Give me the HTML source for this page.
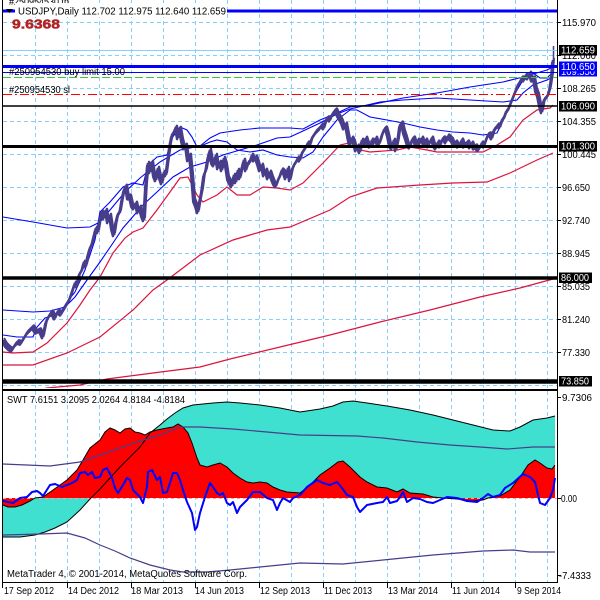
<!DOCTYPE html>
<html><head><meta charset="utf-8">
<style>
html,body{margin:0;padding:0;background:#fff;}
svg{display:block;}
text{font-family:"Liberation Sans",sans-serif;font-size:10px;fill:#000;}
</style></head>
<body>
<svg width="600" height="600" viewBox="0 0 600 600" xmlns="http://www.w3.org/2000/svg" xmlns:xlink="http://www.w3.org/1999/xlink">
<rect width="600" height="600" fill="#fff"/>
<defs>
<clipPath id="cm"><rect x="3" y="0" width="554" height="388"/></clipPath>
<clipPath id="ci"><rect x="3" y="391" width="554" height="191"/></clipPath>
<polyline id="px" fill="none" stroke-linejoin="bevel" points="3,340 6,345 9,348 12,350 15,345 18,342 21,343 24,338 27,333 30,330 33,327 36,332 40,330 43,337 46,322 49,316 52,312 55,318 58,311 61,314 64,309 67,304 70,298 72,292 75,283 77,286 79,275 82,270 84,262 86,266 88,255 90,248 92,244 94,236 96,228 98,232 100,220 102,212 104,218 106,210 108,222 110,215 112,228 114,235 116,222 118,214 120,212 122,200 124,190 126,186 128,198 130,196 132,205 134,208 136,203 138,212 140,207 142,215 144,220 146,185 148,163 150,172 152,162 154,175 156,180 158,168 160,177 162,183 164,172 166,175 168,160 170,145 172,135 174,132 176,127 178,138 180,128 182,140 184,148 186,145 188,160 190,155 192,175 194,200 196,205 198,212 200,200 202,190 204,175 206,170 208,158 210,150 212,162 214,165 216,155 218,168 220,162 222,170 224,158 226,165 228,178 230,182 232,186 234,175 236,182 238,170 240,178 242,168 244,160 246,170 248,163 250,162 252,155 254,160 256,157 258,163 260,170 262,165 264,175 266,170 268,178 270,172 272,178 274,183 276,186 278,180 280,176 282,170 284,172 286,178 288,168 290,180 292,170 294,165 296,162 298,158 300,160 302,153 304,150 306,147 308,143 310,145 312,138 314,135 316,132 318,130 320,128 322,125 324,128 326,120 328,118 330,120 332,115 334,112 336,110 338,115 340,118 342,122 344,128 346,124 348,135 350,145 352,138 354,142 356,150 358,146 360,152 362,140 364,145 366,138 368,144 370,146 372,140 374,143 376,138 378,145 380,142 382,135 384,130 386,128 388,135 390,145 392,148 394,140 396,150 398,140 400,125 402,123 404,132 406,138 408,145 410,147 412,140 414,138 416,145 418,140 420,143 422,138 424,144 426,140 428,146 430,142 432,138 434,145 436,148 438,142 440,146 442,140 444,138 446,142 448,136 450,138 452,140 454,145 456,142 458,146 460,144 462,140 464,146 466,144 468,142 470,147 472,143 474,148 476,146 478,150 480,147 482,143 484,146 486,140 488,135 490,134 492,138 494,130 496,128 498,125 500,127 502,120 504,118 506,112 508,110 510,105 512,100 514,95 516,90 518,85 520,82 522,78 524,80 526,75 528,78 530,73 532,80 534,78 536,90 538,95 540,105 542,112 544,100 546,98 548,95 550,88 552,75 553,60"/>
</defs>

<!-- MAIN PANEL -->
<g clip-path="url(#cm)">
  <path d="M35.5 0V388M67.5 0V388M99.5 0V388M131.5 0V388M163.5 0V388M195.5 0V388M227.5 0V388M259.5 0V388M291.5 0V388M323.5 0V388M355.5 0V388M387.5 0V388M419.5 0V388M451.5 0V388M483.5 0V388M515.5 0V388M547.5 0V388" stroke="#87CEFA" stroke-width="1" stroke-dasharray="4,3" fill="none"/>
  <path d="M3 22.5H557M3 55.5H557M3 88.5H557M3 121.5H557M3 154.5H557M3 187.5H557M3 220.5H557M3 253.5H557M3 286.5H557M3 319.5H557M3 352.5H557M3 385.5H557" stroke="#87CEFA" stroke-width="1" stroke-dasharray="4,3" fill="none"/>

  <polyline fill="none" stroke="#DC143C" stroke-width="1.2" points="3,352 13,353 33,352 47,343 67,323 80,305 90,290 100,277 113,253 125,238 133,232 143,228 157,210 170,192 180,178 188,177 197,195 203,202 217,195 227,187 237,195 250,195 263,187 277,188 290,190 303,183 323,163 340,145 353,142 360,150 370,152 397,150 410,147 427,150 437,152 483,152 497,145 510,137 523,120 537,110 550,108 553,105"/>
  <polyline fill="none" stroke="#DC143C" stroke-width="1.2" points="3,365 33,365 67,353 100,337 133,310 153,290 167,280 200,255 233,240 250,235 267,230 290,227 330,210 350,197 377,188 420,185 453,183 487,182 510,173 537,160 553,153"/>
  <polyline fill="none" stroke="#DC143C" stroke-width="1.2" points="30,392 47,388 80,385 107,379 153,373 200,367 230,359 280,347 330,335 380,322 430,310 480,297 520,288 553,279"/>

  <polyline fill="none" stroke="#0000FF" stroke-width="1.1" points="3,217 33,222 67,228 90,227 100,222 110,210 125,192 140,178 160,162 180,150 200,146 210,138 220,133 240,130 260,128 290,128 303,129 320,120 337,113 350,107 370,105 403,98 437,93 470,87 503,82 523,77 547,70 553,67"/>
  <polyline fill="none" stroke="#0000FF" stroke-width="1.1" points="3,310 33,312 50,311 65,307 75,297 87,280 100,262 113,243 123,228 143,205 157,192 173,177 190,167 207,162 223,155 240,150 257,145 277,138 290,137 303,131 320,123 337,114 350,109 380,102 403,100 437,98 470,100 503,102 517,100 523,93 533,85 547,80 553,77"/>
  <polyline fill="none" stroke="#0000FF" stroke-width="1.1" points="3,335 17,337 33,337 37,327 45,318 55,315 62,310 67,302 75,292 85,270 95,240 100,212 110,202 123,187 133,183 143,185 148,165 157,157 167,155 172,138 180,127 187,130 192,137 197,147 203,145 210,142 217,140 227,142 237,150 250,152 263,150 277,155 290,157 303,158 313,152 323,137 337,120 350,110 357,110 370,117 387,120 403,123 420,127 437,130 453,132 470,133 483,135 497,133 503,120 513,97 523,80 533,73 540,78 547,78 553,72"/>

  <use xlink:href="#px" href="#px" transform="translate(1,-2)" stroke="#483D8B" stroke-width="2"/>
  <use xlink:href="#px" href="#px" transform="translate(-1,2)" stroke="#483D8B" stroke-width="2"/>
  <use xlink:href="#px" href="#px" stroke="#483D8B" stroke-width="2.6"/>
  <line x1="553.5" y1="64" x2="553.5" y2="46" stroke="#483D8B" stroke-width="1.5"/>

  <line x1="3" y1="11" x2="557" y2="11" stroke="#0000FF" stroke-width="3"/>
  <line x1="3" y1="50.5" x2="557" y2="50.5" stroke="#87CEFA" stroke-width="1"/>
  <line x1="3" y1="66.5" x2="557" y2="66.5" stroke="#0000FF" stroke-width="3"/>
  <line x1="3" y1="72.5" x2="557" y2="72.5" stroke="#0000FF" stroke-width="1"/>
  <line x1="3" y1="77.5" x2="557" y2="77.5" stroke="#32CD32" stroke-width="1" stroke-dasharray="8,3"/>
  <line x1="3" y1="94.5" x2="557" y2="94.5" stroke="#FF0000" stroke-width="1" stroke-dasharray="9,3,2,3"/>
  <line x1="3" y1="106" x2="557" y2="106" stroke="#000" stroke-width="1.5"/>
  <line x1="3" y1="146.5" x2="557" y2="146.5" stroke="#000" stroke-width="3"/>
  <line x1="3" y1="278" x2="557" y2="278" stroke="#000" stroke-width="3.5"/>
  <line x1="3" y1="381.5" x2="557" y2="381.5" stroke="#000" stroke-width="4.5"/>

  <text x="9" y="5" textLength="60" lengthAdjust="spacingAndGlyphs">#250954530 tp</text>
  <rect x="15" y="3" width="212" height="14" fill="#fff"/>
  <polygon points="6,9 13,9 9.5,13" fill="#000"/>
  <text x="18" y="14.5" textLength="208" lengthAdjust="spacingAndGlyphs">USDJPY,Daily  112.702 112.975 112.640 112.659</text>
  <text x="12" y="28.5" textLength="48" lengthAdjust="spacingAndGlyphs" style="font-size:13px;font-weight:bold;fill:#B22222;stroke:#B22222;stroke-width:0.5">9.6368</text>
  <text x="9" y="75" textLength="116" lengthAdjust="spacingAndGlyphs">#250954530 buy limit 15.00</text>
  <text x="9" y="93" textLength="61" lengthAdjust="spacingAndGlyphs">#250954530 sl</text>
</g>

<!-- INDICATOR PANEL -->
<g clip-path="url(#ci)">
  <path d="M35.5 391V582M67.5 391V582M99.5 391V582M131.5 391V582M163.5 391V582M195.5 391V582M227.5 391V582M259.5 391V582M291.5 391V582M323.5 391V582M355.5 391V582M387.5 391V582M419.5 391V582M451.5 391V582M483.5 391V582M515.5 391V582M547.5 391V582" stroke="#87CEFA" stroke-width="1" stroke-dasharray="4,3" fill="none"/>
  <polygon fill="#40E0D0" points="3,498 3,537 20,537 35,535 45,532 55,528 67,522 80,510 90,499 100,489 110,478 120,467 130,457 140,447 150,433 160,425 167,419 175,413 183,408 193,405 213,403 227,402 240,403 260,405 280,408 300,412 320,409 333,406 343,402 353,401 367,403 387,406 410,410 433,415 453,420 473,425 493,430 510,431 520,427 533,420 547,418 555,416 555,498"/>
  <polygon fill="#FF0000" points="3,498 3,505 8,507 15,507 22,505 30,501 35,498 43,497 53,490 67,480 77,470 83,460 90,448 100,440 105,432 110,428 115,430 120,433 125,429 130,428 135,432 140,433 145,435 150,432 157,430 167,428 173,427 178,424 183,427 188,433 192,443 197,458 200,465 207,467 213,465 220,463 227,467 233,473 240,478 247,482 253,483 260,482 267,483 273,487 280,490 287,492 300,493 310,485 320,475 330,468 338,462 343,461 350,467 355,472 360,477 367,482 377,487 387,488 397,492 403,489 410,493 423,494 433,497 443,498 457,499 473,501 483,500 488,498 500,496 510,490 520,477 528,465 535,460 540,463 547,468 552,469 555,465 555,498"/>
  <line x1="3" y1="498.5" x2="557" y2="498.5" stroke="#f4a8a8" stroke-width="1" stroke-dasharray="3,3"/>
  <polyline fill="none" stroke="#000" stroke-width="1" points="3,537 20,537 35,535 45,532 55,528 67,522 80,510 90,499 100,489 110,478 120,467 130,457 140,447 150,433 160,425 167,419 175,413 183,408 193,405 213,403 227,402 240,403 260,405 280,408 300,412 320,409 333,406 343,402 353,401 367,403 387,406 410,410 433,415 453,420 473,425 493,430 510,431 520,427 533,420 547,418 555,416"/>
  <polyline fill="none" stroke="#000" stroke-width="1" points="3,505 8,507 15,507 22,505 30,501 35,498 43,497 53,490 67,480 77,470 83,460 90,448 100,440 105,432 110,428 115,430 120,433 125,429 130,428 135,432 140,433 145,435 150,432 157,430 167,428 173,427 178,424 183,427 188,433 192,443 197,458 200,465 207,467 213,465 220,463 227,467 233,473 240,478 247,482 253,483 260,482 267,483 273,487 280,490 287,492 300,493 310,485 320,475 330,468 338,462 343,461 350,467 355,472 360,477 367,482 377,487 387,488 397,492 403,489 410,493 423,494 433,497 443,498 457,499 473,501 483,500 488,498 500,496 510,490 520,477 528,465 535,460 540,463 547,468 552,469 555,465"/>
  <polyline fill="none" stroke="#483D8B" stroke-width="1.2" points="3,464 50,466 80,462 100,455 120,448 140,441 160,435 180,427 200,427 233,429 267,432 300,435 357,436 383,438 417,442 450,445 480,447 507,449 533,447 555,447"/>
  <polyline fill="none" stroke="#483D8B" stroke-width="1.2" points="3,535 40,534 67,533 85,538 100,545 115,551 130,558 150,565 170,570 183,572 207,572 230,570 260,567 300,563 343,564 383,560 433,555 483,551 513,550 530,552 555,552"/>
  <polyline fill="none" stroke="#0000FF" stroke-width="2" stroke-linejoin="round" points="3,501 13,503 20,498 27,497 32,492 37,491 40,493 43,496 50,485 55,484 62,487 67,485 72,483 77,480 80,473 85,472 88,475 92,472 95,478 100,477 103,470 107,468 112,478 115,488 118,493 123,485 127,478 130,480 133,490 140,497 143,503 147,487 148,472 152,470 157,480 160,477 163,493 167,492 170,483 173,473 177,473 180,480 183,490 187,502 192,513 195,530 197,527 200,513 205,497 210,483 213,487 217,493 220,495 223,493 227,503 230,505 233,502 237,513 240,507 247,500 253,492 260,492 267,498 273,500 277,510 280,503 283,498 290,502 293,498 300,495 307,487 317,480 323,483 330,485 337,482 342,488 347,495 353,497 357,507 360,512 367,505 377,503 383,502 387,497 390,503 397,501 400,497 403,492 407,502 413,498 420,499 427,502 433,503 440,500 447,497 457,498 467,501 477,502 483,498 488,494 493,497 500,495 505,488 513,483 523,474 530,477 535,482 540,503 545,505 550,498 553,490 555,478"/>
  <text x="7" y="403" textLength="178" lengthAdjust="spacingAndGlyphs">SWT 7.6151 3.2095 2.0264 4.8184 -4.8184</text>
  <text x="7" y="577" textLength="240" lengthAdjust="spacingAndGlyphs">MetaTrader 4, © 2001-2014, MetaQuotes Software Corp.</text>
</g>

<line x1="2.5" y1="0" x2="2.5" y2="583" stroke="#000" stroke-width="1"/>
<line x1="557.5" y1="0" x2="557.5" y2="583" stroke="#000" stroke-width="1"/>
<line x1="2" y1="390" x2="558" y2="390" stroke="#000" stroke-width="2"/>
<line x1="2" y1="582.5" x2="558" y2="582.5" stroke="#000" stroke-width="1"/>

<path d="M557 22.5H561M557 55.5H561M557 88.5H561M557 121.5H561M557 154.5H561M557 187.5H561M557 220.5H561M557 253.5H561M557 286.5H561M557 319.5H561M557 352.5H561M557 397.5H561M557 498.5H561M557 575.5H561" stroke="#000" stroke-width="1"/>

<text x="562" y="26" textLength="34" lengthAdjust="spacingAndGlyphs">115.970</text>
<text x="562" y="59" textLength="34" lengthAdjust="spacingAndGlyphs">112.060</text>
<text x="562" y="92" textLength="34" lengthAdjust="spacingAndGlyphs">108.265</text>
<text x="562" y="125" textLength="34" lengthAdjust="spacingAndGlyphs">104.355</text>
<text x="562" y="158" textLength="34" lengthAdjust="spacingAndGlyphs">100.445</text>
<text x="562" y="191" textLength="28" lengthAdjust="spacingAndGlyphs">96.650</text>
<text x="562" y="224" textLength="28" lengthAdjust="spacingAndGlyphs">92.740</text>
<text x="562" y="257" textLength="28" lengthAdjust="spacingAndGlyphs">88.945</text>
<text x="562" y="290" textLength="28" lengthAdjust="spacingAndGlyphs">85.035</text>
<text x="562" y="323" textLength="28" lengthAdjust="spacingAndGlyphs">81.240</text>
<text x="562" y="356" textLength="28" lengthAdjust="spacingAndGlyphs">77.330</text>
<text x="562" y="401" textLength="30" lengthAdjust="spacingAndGlyphs">9.7306</text>
<text x="561" y="502" textLength="16" lengthAdjust="spacingAndGlyphs">0.00</text>
<text x="559" y="579" textLength="32" lengthAdjust="spacingAndGlyphs">-7.4333</text>

<rect x="559" y="45" width="38" height="10.5" fill="#000"/>
<text x="561" y="53.5" textLength="34" lengthAdjust="spacingAndGlyphs" style="fill:#fff">112.659</text>
<rect x="559" y="66" width="38" height="10.5" fill="#0000FF"/>
<text x="561" y="75" textLength="34" lengthAdjust="spacingAndGlyphs" style="fill:#fff">109.550</text>
<rect x="559" y="61.5" width="38" height="10" fill="#0000FF"/>
<text x="561" y="70" textLength="34" lengthAdjust="spacingAndGlyphs" style="fill:#fff">110.650</text>
<rect x="559" y="101" width="38" height="10.5" fill="#000"/>
<text x="561" y="109.5" textLength="34" lengthAdjust="spacingAndGlyphs" style="fill:#fff">106.090</text>
<rect x="559" y="141" width="38" height="10.5" fill="#000"/>
<text x="561" y="149.5" textLength="34" lengthAdjust="spacingAndGlyphs" style="fill:#fff">101.300</text>
<rect x="559" y="272.5" width="33" height="10.5" fill="#000"/>
<text x="561" y="281" textLength="28" lengthAdjust="spacingAndGlyphs" style="fill:#fff">86.000</text>
<rect x="559" y="376" width="33" height="10.5" fill="#000"/>
<text x="561" y="384.5" textLength="28" lengthAdjust="spacingAndGlyphs" style="fill:#fff">73.850</text>

<path d="M2.5 582V588M67.5 582V588M131.5 582V588M195.5 582V588M259.5 582V588M323.5 582V588M387.5 582V588M451.5 582V588M515.5 582V588" stroke="#000" stroke-width="1"/>
<text x="4" y="594" textLength="50" lengthAdjust="spacingAndGlyphs">17 Sep 2012</text>
<text x="68" y="594" textLength="51" lengthAdjust="spacingAndGlyphs">14 Dec 2012</text>
<text x="131" y="594" textLength="52" lengthAdjust="spacingAndGlyphs">18 Mar 2013</text>
<text x="195" y="594" textLength="49" lengthAdjust="spacingAndGlyphs">14 Jun 2013</text>
<text x="260" y="594" textLength="50" lengthAdjust="spacingAndGlyphs">12 Sep 2013</text>
<text x="324" y="594" textLength="48" lengthAdjust="spacingAndGlyphs">11 Dec 2013</text>
<text x="388" y="594" textLength="50" lengthAdjust="spacingAndGlyphs">13 Mar 2014</text>
<text x="452" y="594" textLength="48" lengthAdjust="spacingAndGlyphs">11 Jun 2014</text>
<text x="517" y="594" textLength="44" lengthAdjust="spacingAndGlyphs">9 Sep 2014</text>
</svg>
</body></html>
